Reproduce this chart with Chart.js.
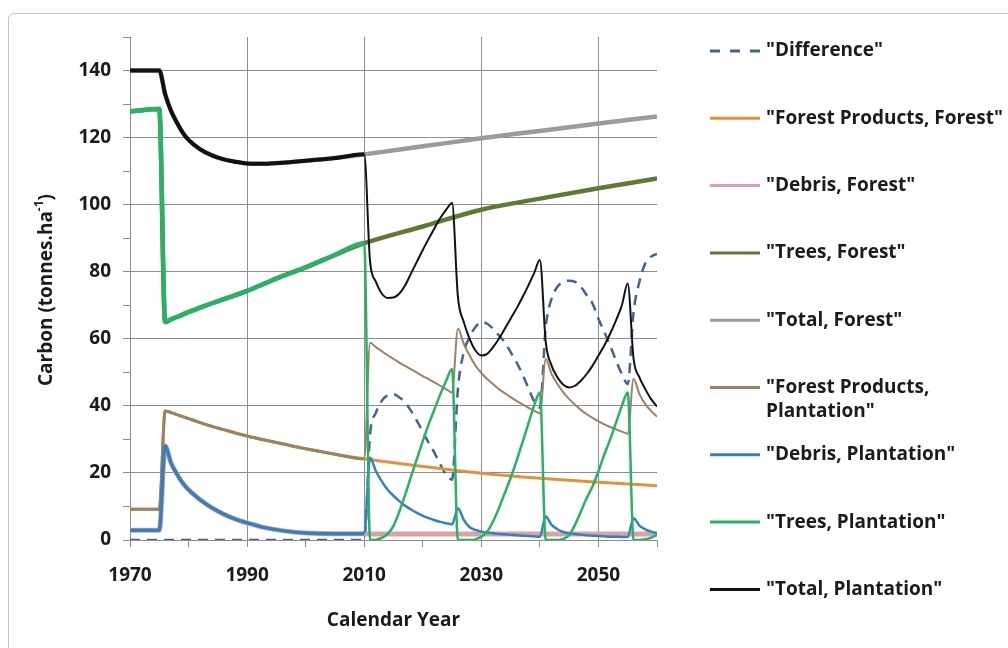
<!DOCTYPE html>
<html>
<head>
<meta charset="utf-8">
<script src="https://cdn.jsdelivr.net/npm/chart.js@4.4.1/dist/chart.umd.min.js"></script>
<style>
  html, body { margin: 0; padding: 0; background: #fff; overflow: hidden; }
  #frame { position: absolute; left: 8px; top: 13px; width: 1100px; height: 700px;
           border: 1px solid #c4c4c4; border-radius: 6px; }
  #chart { position: absolute; left: 0; top: 0; }
</style>
</head>
<body>
<div id="frame"></div>
<canvas id="chart" width="1008" height="648"></canvas>
<script>
// years before the 2010 harvest, shared by forest and plantation
const earlyYears = [1970, 1975, 1976, 1977, 1978, 1979, 1980, 1982, 1984, 1986, 1988, 1990, 1993, 1996, 2000, 2005, 2010];
const lateYears = [2011, 2012, 2013, 2014, 2015, 2016, 2017, 2018, 2019, 2020,
  2021, 2022, 2023, 2024, 2025, 2026, 2027, 2028, 2029, 2030,
  2031, 2032, 2033, 2034, 2035, 2036, 2037, 2038, 2039, 2040,
  2041, 2042, 2043, 2044, 2045, 2046, 2047, 2048, 2049, 2050,
  2051, 2052, 2053, 2054, 2055, 2056, 2057, 2058, 2059, 2060];
const forestLateYears = [2020, 2030, 2040, 2050, 2060];

const totalEarly = [140, 140, 133, 128, 124.5, 121.5, 119.3, 116.5, 114.7, 113.5, 112.8, 112.3, 112.2, 112.5, 113.1, 113.9, 115];
const treesEarly = [127.8, 128.5, 65, 65.8, 66.5, 67.2, 68, 69.3, 70.6, 71.8, 73, 74.3, 76.5, 78.7, 81.3, 85, 88.5];
const productsEarly = [9.2, 9.2, 38.5, 38, 37.4, 36.8, 36.2, 35, 33.9, 32.9, 31.9, 31, 29.8, 28.7, 27.2, 25.6, 24.2];
const debrisEarly = [2.9, 2.9, 28, 23, 19.7, 17, 15, 12, 9.6, 7.7, 6.2, 5.1, 3.7, 2.8, 2.1, 1.9, 1.9];

const differenceEarlyYears = [1970, 2010];
const differenceEarly = [0, 0];
const differenceLate = [31.5, 38, 41.5, 43.2, 43.5, 42.5, 41, 38.5, 35.5, 32.3,
  29, 26, 22.5, 19.5, 18, 45, 56, 60.5, 63.5, 65,
  64.5, 63, 61, 59, 56, 53, 49.5, 45.5, 41.5, 39.5,
  63.5, 72, 75.5, 77, 77.3, 77, 75.5, 73, 70.5, 66,
  62, 58, 53.5, 49.5, 46.5, 68, 77, 82.5, 84.5, 85.3];

const productsForestLate = [21.9, 19.9, 18.4, 17.2, 16.2];
const debrisForestYears = [2011, 2060];
const debrisForestLate = [1.8, 1.8];
const treesForestLate = [93.5, 98.5, 101.8, 104.9, 107.8];
const totalForestLate = [117.4, 119.8, 122, 124.2, 126.3];

const productsPlantLate = [58.8, 57.5, 56.3, 55.1, 54, 52.9, 51.9, 50.9, 49.9, 48.9,
  48, 47, 46, 45, 44, 63, 58.5, 55, 52, 49.8,
  48, 46.5, 45, 43.8, 42.6, 41.5, 40.5, 39.5, 38.6, 37.8,
  54, 49.5, 46.5, 44, 42, 40.3, 38.8, 37.5, 36.4, 35.4,
  34.5, 33.7, 33, 32.3, 31.7, 48, 43.5, 40.5, 38.5, 36.8];
const debrisPlantLate = [24.5, 20.5, 17.5, 15, 13.2, 11.6, 10.2, 9.1, 8.1, 7.2,
  6.5, 5.9, 5.4, 5, 4.7, 9.5, 6, 3.8, 3, 2.5,
  2.2, 2, 1.8, 1.7, 1.6, 1.4, 1.3, 1.2, 1.1, 1,
  7, 4.5, 3.2, 2.4, 2, 1.8, 1.6, 1.4, 1.3, 1.2,
  1.1, 1, 1, 0.9, 0.9, 6.5, 4.3, 3.2, 2.5, 2];
const treesPlantLate = [0, 0.1, 0.6, 1.8, 4.2, 8.5, 13.5, 19, 24.2, 29.5,
  34.5, 39, 43.5, 47.5, 51, 0, 0, 0, 0.2, 1,
  2.5, 5.5, 9.5, 14, 18.5, 23.5, 29, 34.5, 40, 44,
  0, 0, 0, 0.3, 1.5, 4.5, 8.5, 12.5, 16, 20.5,
  25.5, 30, 35, 40, 44, 0, 0, 0.2, 0.7, 1.5];
const totalPlantLate = [83, 77, 73.5, 72.2, 72.3, 73.5, 76, 79.5, 83, 86.5,
  89.8, 93, 96, 98.5, 100.5, 72.5, 65, 60, 56.5, 55,
  55.5, 57.5, 60, 63, 66, 69, 72.3, 75.8, 79.5, 83.5,
  59, 52, 48.5, 46.3, 45.5, 46, 47.5, 49.5, 52, 55,
  58, 61.5, 65.5, 70, 76.5, 54, 48.5, 45, 42, 39.8];

const labels = ['"Difference"', '"Forest Products, Forest"', '"Debris, Forest"', '"Trees, Forest"',
  '"Total, Forest"', '"Forest Products, Plantation"', '"Debris, Plantation"',
  '"Trees, Plantation"', '"Total, Plantation"'];
const colors = ['#44648f', '#e4913b', '#d9a3a3', '#5f7b32', '#9b9b9b',
  '#9c8263', '#3282c2', '#27b264', '#111111'];

const FONT = '"Open Sans", Lato, sans-serif';
const GRID = '#8e8e8e';
const TEXT = '#1c1a1e';

function pts(xs, ys) {
  return xs.map((x, i) => ({ x: x, y: ys[i] }));
}

// plantation lines look heavier before 2010 where they sit on the forest ones
function heavyBefore2010(thick, thin) {
  return { borderWidth: ctx => ctx.p0.parsed.x < 2010 ? thick : thin };
}

const datasets = [
  { data: pts(differenceEarlyYears.concat(lateYears), differenceEarly.concat(differenceLate)),
    borderWidth: 2.5, borderDash: [10, 7] },
  { data: pts(earlyYears.concat(forestLateYears), productsEarly.concat(productsForestLate)), borderWidth: 3 },
  { data: pts(earlyYears.concat(debrisForestYears), debrisEarly.concat(debrisForestLate)), borderWidth: 5 },
  { data: pts(earlyYears.concat(forestLateYears), treesEarly.concat(treesForestLate)), borderWidth: 4.5 },
  { data: pts(earlyYears.concat(forestLateYears), totalEarly.concat(totalForestLate)), borderWidth: 4.5 },
  { data: pts(earlyYears.concat(lateYears), productsEarly.concat(productsPlantLate)), segment: heavyBefore2010(3, 2) },
  { data: pts(earlyYears.concat(lateYears), debrisEarly.concat(debrisPlantLate)), segment: heavyBefore2010(3.5, 2.5) },
  { data: pts(earlyYears.concat(lateYears), treesEarly.concat(treesPlantLate)), segment: heavyBefore2010(4.5, 2.5) },
  { data: pts(earlyYears.concat(lateYears), totalEarly.concat(totalPlantLate)), segment: heavyBefore2010(4, 2) }
].map((ds, i) => Object.assign({
  label: labels[i],
  borderColor: colors[i],
  pointRadius: 0,
  fill: false,
  cubicInterpolationMode: 'monotone',
  order: labels.length - 1 - i
}, ds));

const sideLegend = {
  id: 'sideLegend',
  afterDraw(chart) {
    const ctx = chart.ctx;
    ctx.save();
    ctx.font = 'bold 19px ' + FONT;
    ctx.textBaseline = 'middle';
    chart.data.datasets.forEach((ds, i) => {
      const y = 51 + i * 67.3;
      ctx.beginPath();
      ctx.setLineDash(ds.borderDash ? [10, 10] : []);
      ctx.strokeStyle = ds.borderColor;
      ctx.lineWidth = 3;
      ctx.moveTo(710, y);
      ctx.lineTo(760, y);
      ctx.stroke();
      ctx.setLineDash([]);
      ctx.fillStyle = TEXT;
      // wrap at the comma when the label is too long for the space left
      let lines = [ds.label];
      if (ctx.measureText(ds.label).width > 250) {
        const cut = ds.label.indexOf(', ') + 1;
        lines = [ds.label.slice(0, cut), ds.label.slice(cut + 1)];
      }
      lines.forEach((t, k) => ctx.fillText(t, 766, y + k * 24));
    });
    // y axis title with superscript
    ctx.translate(47, 290);
    ctx.rotate(-Math.PI / 2);
    const a = 'Carbon (tonnes.ha', b = '-1', c = ')';
    ctx.font = 'bold 19px ' + FONT;
    const wa = ctx.measureText(a).width, wc = ctx.measureText(c).width;
    ctx.font = 'bold 12px ' + FONT;
    const wb = ctx.measureText(b).width;
    let x = -(wa + wb + wc) / 2;
    ctx.fillStyle = TEXT;
    ctx.textAlign = 'left';
    ctx.font = 'bold 19px ' + FONT;
    ctx.fillText(a, x, 0);
    x += wa;
    ctx.font = 'bold 12px ' + FONT;
    ctx.fillText(b, x, -7);
    x += wb;
    ctx.font = 'bold 19px ' + FONT;
    ctx.fillText(c, x, 0);
    ctx.restore();
  }
};

new Chart(document.getElementById('chart'), {
  type: 'line',
  data: { datasets: datasets },
  options: {
    responsive: false,
    animation: false,
    layout: { padding: { left: 0, right: 351, top: 37, bottom: 0 } },
    plugins: { legend: { display: false }, tooltip: { enabled: false } },
    scales: {
      x: {
        type: 'linear', min: 1970, max: 2060,
        afterFit: s => { s.height = 108; },
        ticks: {
          stepSize: 10, autoSkip: false, maxRotation: 0, padding: 17,
          color: TEXT, font: { family: FONT, size: 19, weight: 'bold' },
          callback: v => (v - 1970) % 20 === 0 ? String(v) : ''
        },
        grid: {
          color: c => (c.tick && c.tick.value > 1970 && (c.tick.value - 1970) % 20 === 0) ? GRID : 'rgba(0,0,0,0)',
          tickColor: GRID, tickLength: 7, lineWidth: 1
        },
        border: { color: GRID, width: 1 },
        title: {
          display: true, text: 'Calendar Year', color: TEXT,
          font: { family: FONT, size: 19, weight: 'bold' },
          padding: { top: 0, bottom: 16 }
        }
      },
      y: {
        min: 0, max: 150,
        afterFit: s => { s.width = 130; },
        ticks: {
          stepSize: 10, autoSkip: false, padding: 12,
          color: TEXT, font: { family: FONT, size: 19, weight: 'bold' },
          callback: v => v % 20 === 0 ? String(v) : ''
        },
        grid: {
          color: c => (c.tick && c.tick.value % 20 === 0) ? GRID : 'rgba(0,0,0,0)',
          tickColor: GRID, tickLength: 7, lineWidth: 1
        },
        border: { color: GRID, width: 1 }
      }
    }
  },
  plugins: [sideLegend]
});
</script>
</body>
</html>
